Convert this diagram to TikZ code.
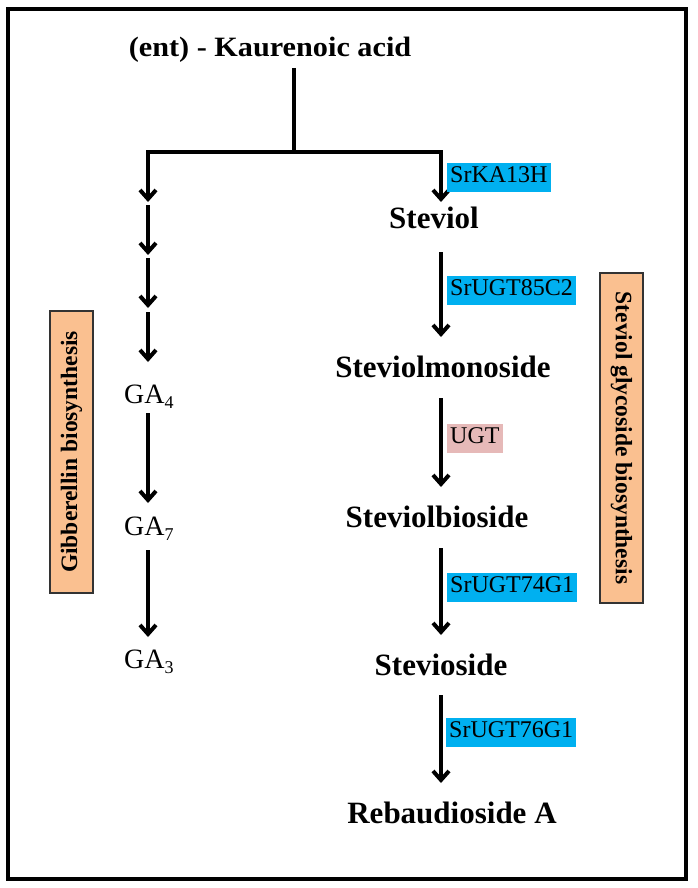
\documentclass[tikz,border=0pt]{standalone}
\usepackage{fontspec}
\setmainfont{Liberation Serif}
\usetikzlibrary{arrows.meta}
\definecolor{hlblue}{RGB}{0,176,240}
\definecolor{hlpink}{RGB}{230,185,184}
\definecolor{peach}{RGB}{250,192,144}
\begin{document}
\begin{tikzpicture}[x=1pt,y=-1pt,
  ln/.style={line width=4pt},
  arr/.style={line width=4pt,-{Straight Barb[length=9pt,width=16pt]}},
  prod/.style={font=\fontsize{31}{31}\selectfont\bfseries,inner sep=0pt,anchor=base},
  gal/.style={font=\fontsize{28}{28}\selectfont,inner sep=0pt,anchor=base west},
  enz/.style={fill=hlblue,font=\fontsize{24}{24}\selectfont,inner xsep=3pt,inner ysep=1pt,
              text height=19pt,text depth=8pt,anchor=west},
  sidebox/.style={draw=black!80,line width=1.3pt,fill=peach,font=\fontsize{23.5}{23.5}\selectfont\bfseries,
              minimum height=43pt,inner sep=0pt}
]
\useasboundingbox (0,0) rectangle (697,888);
\fill[white] (0,0) rectangle (697,888);
\draw[line width=4pt] (8,9) rectangle (686,879);

% top compound
\node[font=\fontsize{28}{28}\selectfont\bfseries,inner sep=0pt,anchor=base] (kau) at (270,57)
  {\scalebox{1.08}[1]{(ent) - Kaurenoic acid}};
\coordinate (kst) at (294,68);
\coordinate (bm) at (294,152);
\draw[ln] (kst) -- (bm);

% left branch
\coordinate (l1) at (148,202);
\coordinate (l2s) at (148,205); \coordinate (l2) at (148,255);
\coordinate (l3s) at (148,258); \coordinate (l3) at (148,308);
\coordinate (l4s) at (148,312); \coordinate (l4) at (148,362);
\draw[arr] (bm) -| (l1);
\draw[arr] (l2s) -- (l2);
\draw[arr] (l3s) -- (l3);
\draw[arr] (l4s) -- (l4);

\node[gal] (ga4) at (124,403) {GA\raisebox{-5pt}{\fontsize{18}{18}\selectfont 4}};
\node[gal] (ga7) at (124,535) {GA\raisebox{-5pt}{\fontsize{18}{18}\selectfont 7}};
\node[gal] (ga3) at (124,668) {GA\raisebox{-5pt}{\fontsize{18}{18}\selectfont 3}};
\coordinate (g1s) at (148,413); \coordinate (g1) at (148,503);
\coordinate (g2s) at (148,550); \coordinate (g2) at (148,637);
\draw[arr] (g1s) -- (g1);
\draw[arr] (g2s) -- (g2);

% right branch
\coordinate (r1) at (441,202);
\draw[arr] (bm) -| (r1);
\node[prod] (stv) at (434,228) {Steviol};
\node[prod] (mono) at (443,377) {Steviolmonoside};
\node[prod] (bio) at (437,527) {Steviolbioside};
\node[prod] (svs) at (441,675) {Stevioside};
\node[prod] (reb) at (452,823) {Rebaudioside A};

\coordinate (r2s) at (441,252); \coordinate (r2) at (441,337);
\coordinate (r3s) at (441,398); \coordinate (r3) at (441,487);
\coordinate (r4s) at (441,548); \coordinate (r4) at (441,635);
\coordinate (r5s) at (441,695); \coordinate (r5) at (441,783);
\draw[arr] (r2s) -- (r2);
\draw[arr] (r3s) -- (r3);
\draw[arr] (r4s) -- (r4);
\draw[arr] (r5s) -- (r5);

% enzyme labels
\node[enz] (e1) at (447,177) {SrKA13H};
\node[enz] (e2) at (447,290) {SrUGT85C2};
\node[enz,fill=hlpink] (e3) at (447,438) {UGT};
\node[enz] (e4) at (447,587) {SrUGT74G1};
\node[enz] (e5) at (446,732) {SrUGT76G1};

% side boxes
\node[sidebox,rotate=90,minimum width=282pt] (gib) at (71.5,452) {Gibberellin biosynthesis};
\node[sidebox,rotate=-90,minimum width=330pt] (sgb) at (621.5,438) {Steviol glycoside biosynthesis};
\end{tikzpicture}
\end{document}
